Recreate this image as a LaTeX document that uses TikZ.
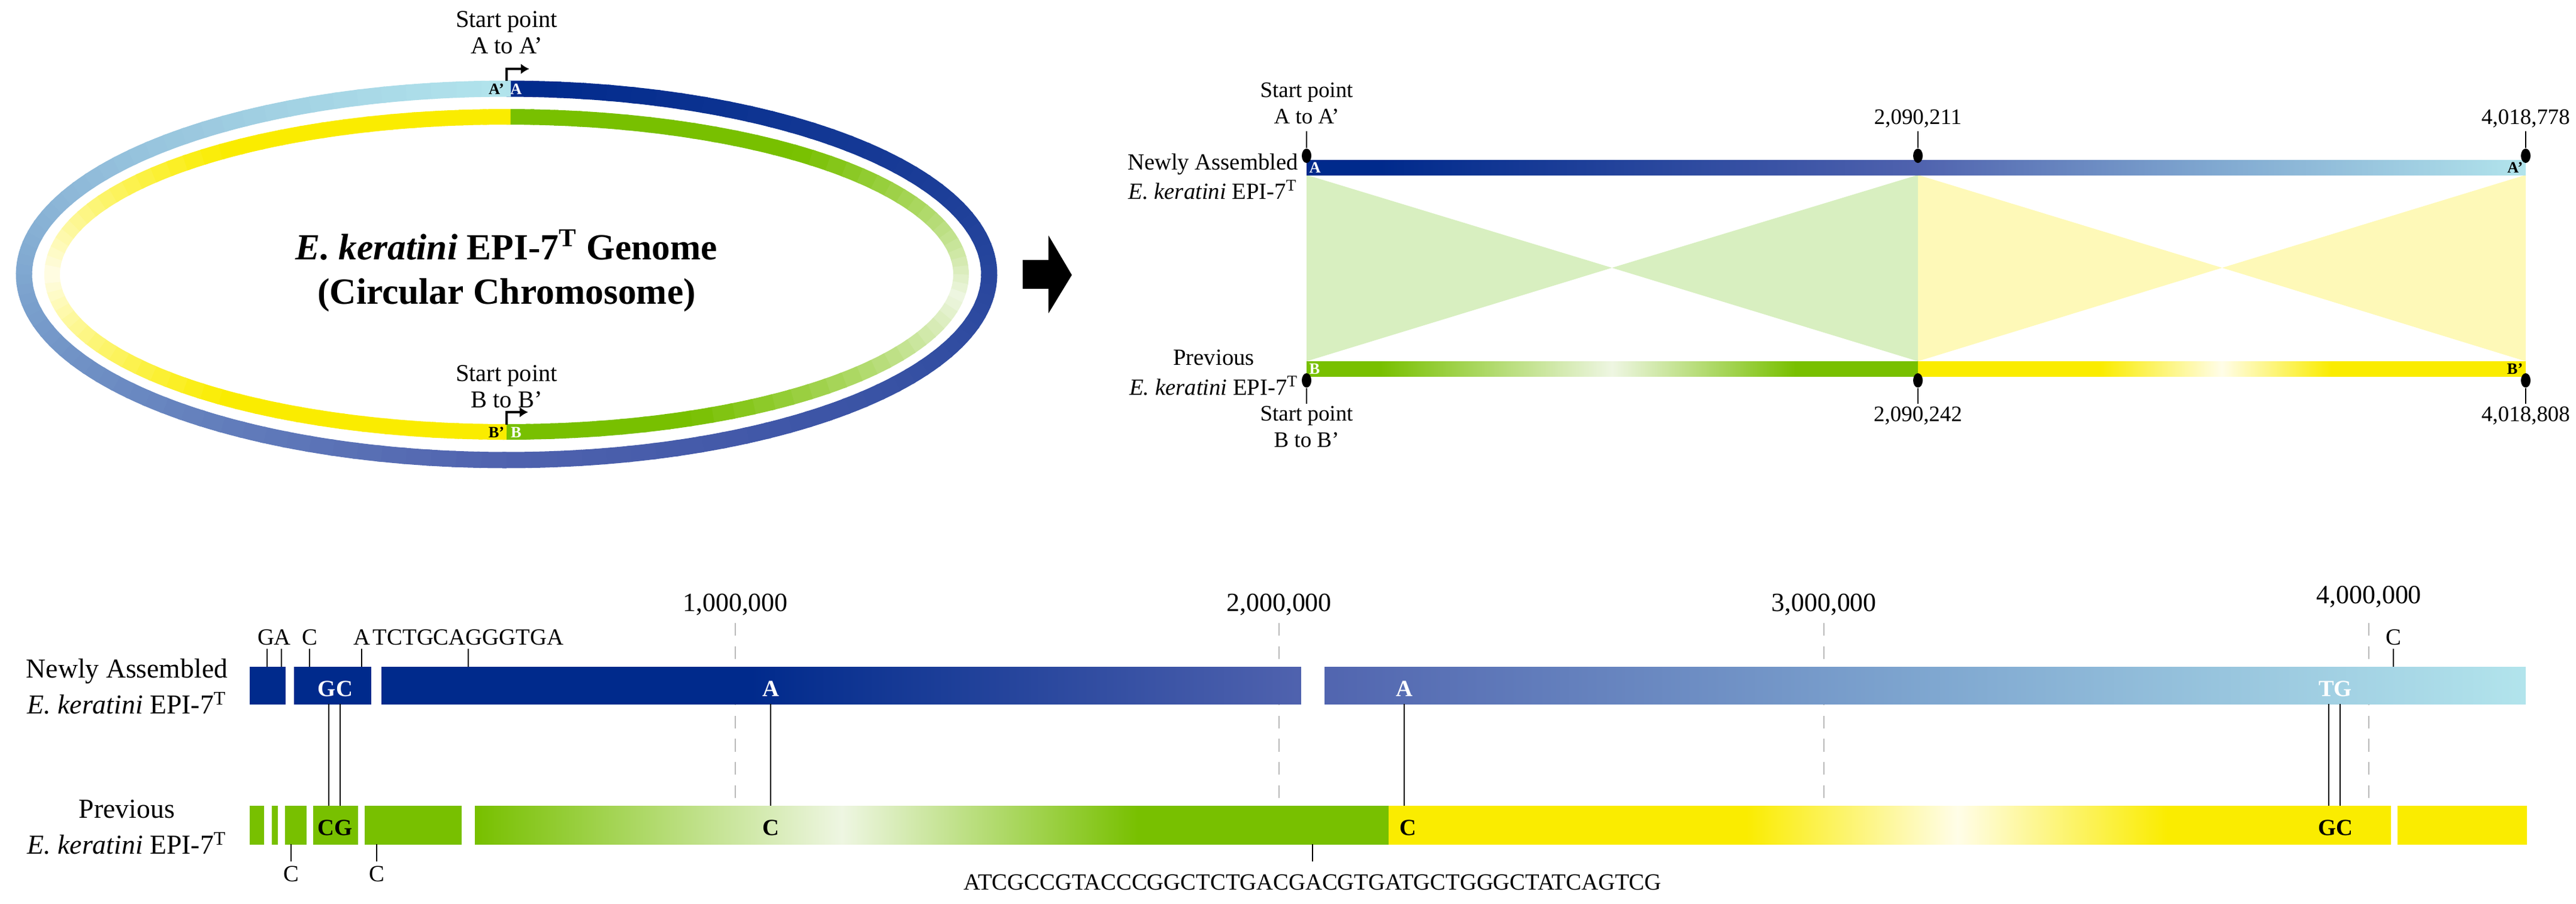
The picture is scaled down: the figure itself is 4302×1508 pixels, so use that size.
\documentclass[tikz,border=0pt]{standalone}
\usepackage{fontspec}
\setmainfont{Liberation Serif}
\usetikzlibrary{shapes.geometric,arrows.meta}
\definecolor{navy}{HTML}{002A8C}
\definecolor{midb}{HTML}{4F62AE}
\definecolor{ltb}{HTML}{7FA7D0}
\definecolor{cyanb}{HTML}{B2E4EC}
\definecolor{grn}{HTML}{78C000}
\definecolor{paleg}{HTML}{EEF6E2}
\definecolor{yel}{HTML}{FAEC00}
\definecolor{paley}{HTML}{FFFDE8}
\definecolor{hgreen}{HTML}{D8EFC0}
\definecolor{hyel}{HTML}{FEF9B8}
\pgfdeclarehorizontalshading{topblue}{100bp}{color(0bp)=(navy); color(28bp)=(navy); color(50bp)=(midb); color(62bp)=(ltb); color(75bp)=(cyanb); color(100bp)=(cyanb)}
\pgfdeclarehorizontalshading{topgreen}{100bp}{color(0bp)=(grn); color(31bp)=(grn); color(50bp)=(paleg); color(65bp)=(grn); color(100bp)=(grn)}
\pgfdeclarehorizontalshading{topyel}{100bp}{color(0bp)=(yel); color(40bp)=(yel); color(50bp)=(paley); color(59bp)=(yel); color(100bp)=(yel)}
\pgfdeclarehorizontalshading{botblue}{100bp}{color(0bp)=(navy); color(36bp)=(navy); color(48bp)=(midb); color(62bp)=(ltb); color(75bp)=(cyanb); color(100bp)=(cyanb)}
\pgfdeclarehorizontalshading{botgreen}{100bp}{color(0bp)=(grn); color(35bp)=(grn); color(51bp)=(paleg); color(64bp)=(grn); color(100bp)=(grn)}
\pgfdeclarehorizontalshading{botyel}{100bp}{color(0bp)=(yel); color(40.7bp)=(yel); color(50bp)=(paley); color(59.2bp)=(yel); color(100bp)=(yel)}
\begin{document}
\begin{tikzpicture}[x=0.01cm,y=-0.01cm,
  thin line/.style={line width=0.6pt,black},
  dash line/.style={line width=0.6pt,gray!55,dash pattern=on 6pt off 5pt},
  lbl/.style={font=\fontsize{11}{13}\selectfont,inner sep=1pt},
  toplbl/.style={font=\fontsize{10.5}{12.5}\selectfont,align=center,inner sep=1pt},
  side/.style={font=\fontsize{13}{17}\selectfont,align=center,inner sep=1pt},
  sideS/.style={font=\fontsize{11}{14}\selectfont,align=center,inner sep=1pt},
  inW/.style={font=\fontsize{11}{13}\selectfont\bfseries,text=white,inner sep=1pt},
  inB/.style={font=\fontsize{11}{13}\selectfont\bfseries,text=black,inner sep=1pt},
  tiny/.style={font=\fontsize{7.5}{8}\selectfont\bfseries,inner sep=0pt},
  dot/.style={ellipse,fill=black,minimum width=0.16cm,minimum height=0.24cm,inner sep=0pt}]
\useasboundingbox (0,0) rectangle (4302,1508);
% ===== circular chromosome =====
\foreach \i in {0,...,119}{
  \pgfmathsetmacro\ta{\i*3}
  \pgfmathsetmacro\tb{\i*3+3.5}
  \pgfmathsetmacro\tm{\i*3+1.5}
  \pgfmathsetmacro\pa{\tm<180 ? \tm/180*100 : 0}
  \pgfmathsetmacro\pb{(\tm>=180)&&(\tm<270) ? (\tm-180)/90*100 : 0}
  \pgfmathsetmacro\pc{\tm>=270 ? (\tm-270)/90*100 : 0}
  \ifdim\tm pt<180pt \colorlet{cc}{midb!\pa!navy}\else
    \ifdim\tm pt<270pt \colorlet{cc}{ltb!\pb!midb}\else\colorlet{cc}{cyanb!\pc!ltb}\fi\fi
  \draw[line width=0.27cm,cc,line cap=butt] plot[domain=\ta:\tb,samples=3] ({846+806*sin(\x)},{458-310*cos(\x)});
  \ifdim\tm pt<180pt
    \pgfmathsetmacro\pp{max(0,100*(1-abs(\tm-98)/58))}
    \colorlet{ci}{paleg!\pp!grn}
  \else
    \pgfmathsetmacro\pp{max(0,100*(1-abs(\tm-270)/52))}
    \colorlet{ci}{paley!\pp!yel}
  \fi
  \draw[line width=0.26cm,ci,line cap=butt] plot[domain=\ta:\tb,samples=3] ({846+759*sin(\x)},{458-263*cos(\x)});
}
\fill[cyanb] (835,135) rectangle (846,161);
\node[tiny,text=black] (ap) at (829,149) {A’};
\node[tiny,text=white] (a) at (862,149) {A};
\node[tiny,text=black] (bp) at (829,722) {B’};
\node[tiny,text=white] (b) at (862,722) {B};
\coordinate (arA0) at (846,135); \coordinate (arA1) at (846,115); \coordinate (arA2) at (884,115);
\draw[line width=1.4pt,-{Latex[length=4pt,width=5pt]}] (arA0) -- (arA1) -- (arA2);
\coordinate (arB0) at (846,709); \coordinate (arB1) at (846,688); \coordinate (arB2) at (882,688);
\draw[line width=1.4pt,-{Latex[length=4pt,width=5pt]}] (arB0) -- (arB1) -- (arB2);
\node[toplbl,font=\fontsize{11.5}{12.5}\selectfont] (spA) at (846,54) {Start point\\A to A’};
\node[toplbl,font=\fontsize{11.5}{12.5}\selectfont] (spB) at (846,645) {Start point\\B to B’};
\node[font=\fontsize{17.5}{21}\selectfont\bfseries,align=center] (title) at (846,452) {\textit{E. keratini} EPI-7\textsuperscript{T} Genome\\(Circular Chromosome)};
% big arrow
\fill[black] (1708,434) -- (1751,434) -- (1751,393) -- (1790,459) -- (1751,523) -- (1751,482) -- (1708,482) -- cycle;
% ===== top-right panel =====
\fill[hgreen] (2182,292) -- (2182,603) -- (2692,447) -- cycle;
\fill[hgreen] (3203,292) -- (3203,603) -- (2692,447) -- cycle;
\fill[hyel] (3203,292) -- (3203,603) -- (3711,447) -- cycle;
\fill[hyel] (4218,292) -- (4218,603) -- (3711,447) -- cycle;
\shade[shading=topblue] (2182,267) rectangle (4218,292);
\shade[shading=topgreen] (2182,603) rectangle (3203,628);
\shade[shading=topyel] (3203,603) rectangle (4218,628);
\node[tiny,text=white,anchor=west] (ta) at (2186,280) {A};
\node[tiny,text=black,anchor=east] (tap) at (4214,280) {A’};
\node[tiny,text=white,anchor=west] (tb) at (2186,616) {B};
\node[tiny,text=black,anchor=east] (tbp) at (4214,616) {B’};
\foreach \n/\x in {1/2182,2/3203,3/4218}{
  \node[dot] (dt\n) at (\x,260) {};
  \coordinate (lt\n) at (\x,219);
  \draw[thin line] (dt\n) -- (lt\n);
  \node[dot] (db\n) at (\x,635) {};
  \coordinate (lb\n) at (\x,674);
  \draw[thin line] (db\n) -- (lb\n);
}
\node[toplbl] (tsp) at (2182,172) {Start point\\A to A’};
\node[toplbl] (t2) at (3203,198) {2,090,211};
\node[toplbl] (t3) at (4218,198) {4,018,778};
\node[toplbl] (bsp) at (2182,712) {Start point\\B to B’};
\node[toplbl] (b2) at (3203,694) {2,090,242};
\node[toplbl] (b3) at (4218,694) {4,018,808};
\node[sideS,anchor=east] (tn) at (2172,295) {Newly Assembled\\\textit{E. keratini} EPI-7\textsuperscript{T}};
\node[sideS,anchor=east] (tpv) at (2172,622) {Previous\\\textit{E. keratini} EPI-7\textsuperscript{T}};
% ===== bottom panel =====
\foreach \n/\x/\y/\t in {1/1228/1009/{1,000,000},2/2136/1009/{2,000,000},3/3046/1009/{3,000,000},4/3956/996/{4,000,000}}{
  \node[lbl,font=\fontsize{12.5}{14}\selectfont] (tk\n) at (\x,\y) {\t};
  \coordinate (da\n) at (\x,1040); \coordinate (dz\n) at (\x,1345);
  \draw[dash line] (da\n) -- (dz\n);
}
\shade[shading=botblue] (417,1113) rectangle (4218,1175);
\shade[shading=botgreen] (417,1345) rectangle (2319,1409);
\shade[shading=botyel] (2319,1345) rectangle (4220,1409);
\foreach \a/\b in {477/491,620/637,2173/2212}{\fill[white] (\a,1110) rectangle (\b,1178);}
\foreach \a/\b in {441/454,464/476,512/523,598/609,771/793,3993/4004}{\fill[white] (\a,1342) rectangle (\b,1412);}
\foreach \n/\x in {1/549,2/568,3/1287,4/2345,5/3889,6/3908}{
  \coordinate (mu\n) at (\x,1175); \coordinate (md\n) at (\x,1345);
  \draw[thin line] (mu\n) -- (md\n);
}
\foreach \n/\x in {1/446,2/470,3/517,4/604,5/782,6/3997}{
  \coordinate (su\n) at (\x,1083); \coordinate (sd\n) at (\x,1113);
  \draw[thin line] (su\n) -- (sd\n);
}
\foreach \n/\x in {1/486,2/629,3/2192}{
  \coordinate (bu\n) at (\x,1409); \coordinate (bd\n) at (\x,1438);
  \draw[thin line] (bu\n) -- (bd\n);
}
\node[lbl] (sGA) at (458,1064) {GA};
\node[lbl] (sC1) at (517,1064) {C};
\node[lbl] (sA1) at (604,1064) {A};
\node[lbl] (sSeq) at (782,1064) {TCTGCAGGGTGA};
\node[lbl] (sC2) at (3997,1064) {C};
\node[lbl] (sC3) at (486,1459) {C};
\node[lbl] (sC4) at (629,1459) {C};
\node[lbl] (sSeq2) at (2192,1473) {ATCGCCGTACCCGGCTCTGACGACGTGATGCTGGGCTATCAGTCG};
\node[inW] (iGC) at (560,1150) {GC};
\node[inW] (iA1) at (1287,1150) {A};
\node[inW] (iA2) at (2345,1150) {A};
\node[inW] (iTG) at (3900,1150) {TG};
\node[inB] (iCG) at (560,1382) {CG};
\node[inB] (iC1) at (1287,1382) {C};
\node[inB] (iC2) at (2351,1382) {C};
\node[inB] (iGC2) at (3900,1382) {GC};
\node[side] (bn) at (212,1146) {Newly Assembled\\\textit{E. keratini} EPI-7\textsuperscript{T}};
\node[side] (bpv) at (212,1381) {Previous\\\textit{E. keratini} EPI-7\textsuperscript{T}};
\end{tikzpicture}
\end{document}
